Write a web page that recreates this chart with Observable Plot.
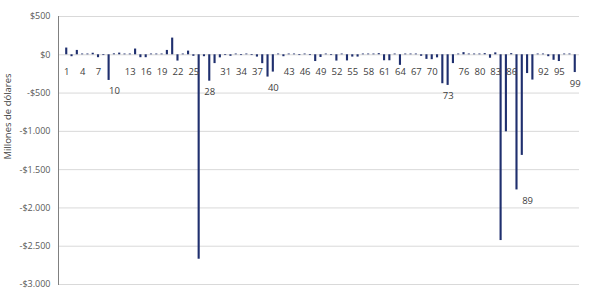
<!DOCTYPE html>
<html><head><meta charset="utf-8">
<script src="https://cdn.jsdelivr.net/npm/d3@7"></script>
<script src="https://cdn.jsdelivr.net/npm/@observablehq/plot@0.6"></script>
<style>body{margin:0;background:#fff;} svg{display:block}</style>
</head><body><div id="chart"></div>
<script>
// Categories (entity numbers) in drawing order
const categories = [
  "1","2","3","4","5","6","7","8","9","10",
  "11","12","13","14","15","16","17","18","19","20",
  "21","22","23","24","25","26","27","28","29","30",
  "31","32","33","34","35","36","37","38","39","40",
  "41","42","43","44","45","46","47","48","49","50",
  "51","52","53","54","55","56","57","58","59","60",
  "61","62","63","64","65","66","67","68","69","70",
  "71","72","73","74","75","76","77","79","80","81",
  "82","83","84","85","86","87","88","89","90","91",
  "92","93","94","95","96","98","99"
];
// Values, millions of dollars
const values = [
  88, -25, 57, 10, 10, 20, -38, -10, -335, 12,
  22, 10, 10, 75, -38, -38, 10, 10, 10, 57,
  218, -82, 10, 48, -20, -2670, -25, -345, -115, -40,
  -10, -20, 10, -10, 10, -10, -30, -116, -291, -226,
  10, -25, 10, 10, -10, 10, -10, -88, -35, 10,
  -10, -82, 10, -80, -30, -30, 10, 10, 10, 15,
  -78, -78, 10, -138, 10, 10, 10, -20, -60, -64,
  -40, -378, -400, -115, 10, 28, 10, 10, 10, 15,
  -45, 25, -2426, -1006, 15, -1765, -1314, -245, -330, 10,
  10, -25, -72, -88, 10, 10, -232
];
// Category labels shown on the chart
const tickLabels = ["1","4","7","10","13","16","19","22","25","28","31","34","37","40",
  "43","46","49","52","55","58","61","64","67","70","73","76","80","83","86","89","92","95","99"];
// Labels that hang below a bar: label -> bar it belongs under
const labelAnchors = {"10":"9","28":"28","40":"39","73":"73","89":"87","99":"99"};
const yTicks = [500, 0, -500, -1000, -1500, -2000, -2500, -3000];
const yTitle = "Millones de dólares";

const data = categories.map((c, i) => ({cat: c, value: values[i]}));
const valueOf = Object.fromEntries(categories.map((c, i) => [c, values[i]]));
const defaultLabels = tickLabels.filter(l => !(l in labelAnchors));
const lowLabels = tickLabels.filter(l => l in labelAnchors).map(l => ({label: l, v: valueOf[labelAnchors[l]]}));
const fmt = d => (d < 0 ? "-" : "") + "$" + d3.format(",")(Math.abs(d)).replace(/,/g, ".");
const font = "'Segoe UI','Open Sans','Noto Sans',sans-serif";

const plot = Plot.plot({
  width: 590, height: 294,
  marginTop: 16, marginBottom: 10, marginLeft: 58, marginRight: 11,
  style: {fontFamily: font, background: "#fff"},
  x: {type: "band", domain: categories, padding: 0.6, round: false, insetLeft: 4, insetRight: 0, axis: null},
  y: {domain: [-3000, 500], axis: null},
  marks: [
    Plot.gridY(yTicks, {stroke: "#d9d9d9", strokeOpacity: 1}),
    Plot.barY(data, {x: "cat", y: "value", fill: "#1F2F6E"}),
    Plot.frame({anchor: "left", stroke: "#808080"}),
    Plot.axisY(yTicks, {tickSize: 0, tickPadding: 8, fontSize: 9, color: "#595959", tickFormat: fmt, label: null}),
    Plot.text(defaultLabels, {x: d => d, y: () => 0, text: d => d, dy: 17, fontSize: 9.5, fill: "#404040"}),
    Plot.text(lowLabels, {x: "label", y: "v", text: "label", dy: 11, fontSize: 9.5, fill: "#404040"}),
    Plot.text([yTitle], {frameAnchor: "left", rotate: -90, textAnchor: "middle", dx: -51, dy: -34, fontSize: 9.5, fill: "#404040"})
  ]
});
document.getElementById("chart").appendChild(plot);
</script>
</body></html>
